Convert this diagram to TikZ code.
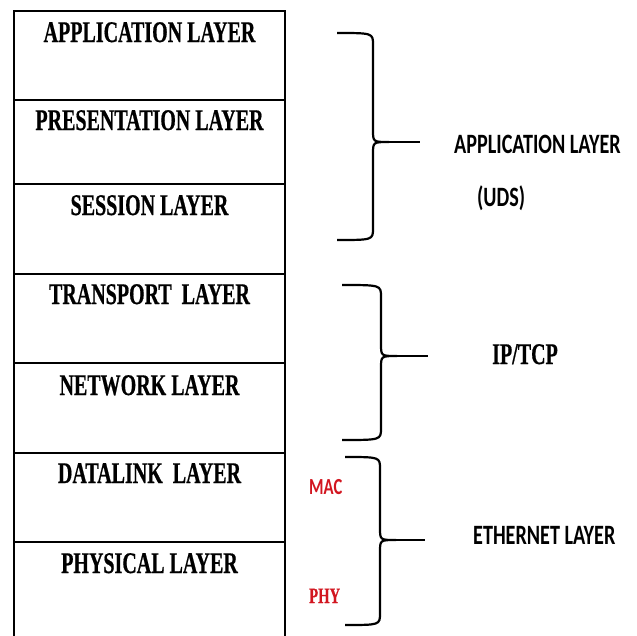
\documentclass[tikz,border=0pt]{standalone}
\usepackage{fontspec}
\newfontfamily\layerfont[FakeStretch=0.667, BoldFeatures={FakeBold=0.6}]{Liberation Serif}
\newfontfamily\notefont[FakeStretch=0.72]{Carlito}
\usetikzlibrary{positioning}
\definecolor{macred}{RGB}{210,22,32}

\begin{document}
\begin{tikzpicture}[x=1pt, y=-1pt,
  stack line/.style={line width=2.6pt, line cap=rect},
  brace line/.style={line width=2.2pt},
  layer/.style={anchor=base, inner sep=0pt, font=\layerfont\bfseries\fontsize{30}{36}\selectfont},
  note/.style={anchor=base west, inner sep=0pt, font=\notefont\bfseries\fontsize{28}{34}\selectfont},
  tag/.style={anchor=base west, inner sep=0pt, text=macred}]

\useasboundingbox (0,0) rectangle (637,635);

% OSI stack (open at the bottom)
\draw[stack line] (14,640) -- (14,11) -- (285,11) -- (285,640);
\foreach \y in {100,184,274,363,453,542} {
  \draw[stack line] (14,\y) -- (285,\y);
}

% layer names
\foreach \yb/\nm/\txt in {42/app/APPLICATION LAYER, 130/pres/PRESENTATION LAYER,
    215/sess/SESSION LAYER, 304/trans/TRANSPORT\ \ LAYER, 395/net/NETWORK LAYER,
    483/dlink/DATALINK\ \ LAYER, 573/phys/PHYSICAL LAYER} {
  \node[layer] (\nm) at (149.5,\yb) {\txt};
}

% braces grouping the layers
\foreach \xa/\xv/\xt/\yt/\ym/\yb/\nm in {337/373/420/33/142/240/appbr,
    342/381/428/285/356/440/ipbr, 345/380/425/457/540/625/ethbr} {
  \draw[brace line] (\xa,\yt) .. controls (\xv,\yt) .. (\xv,\yt+12) -- (\xv,\ym-12)
    .. controls (\xv,\ym) .. (\xv+16,\ym) .. controls (\xv,\ym) .. (\xv,\ym+12)
    -- (\xv,\yb-12) .. controls (\xv,\yb) .. (\xa,\yb);
  \draw[brace line] (\xv+16,\ym) -- (\xt,\ym) coordinate (\nm);
}

% group labels
\node[note] (applbl) at (454,153) {APPLICATION LAYER};
\node[note] (udslbl) at (477,206) {(UDS)};
\node[layer, anchor=base west] (iplbl) at (492,364) {IP/TCP};
\node[note] (ethlbl) at (473,544) {ETHERNET LAYER};

% sublayers of ethernet
\node[tag, font=\notefont\bfseries\fontsize{23}{28}\selectfont] (mac) at (309,494) {MAC};
\node[tag, font=\layerfont\bfseries\fontsize{22}{26}\selectfont] (phy) at (309,603) {PHY};

\end{tikzpicture}
\end{document}
